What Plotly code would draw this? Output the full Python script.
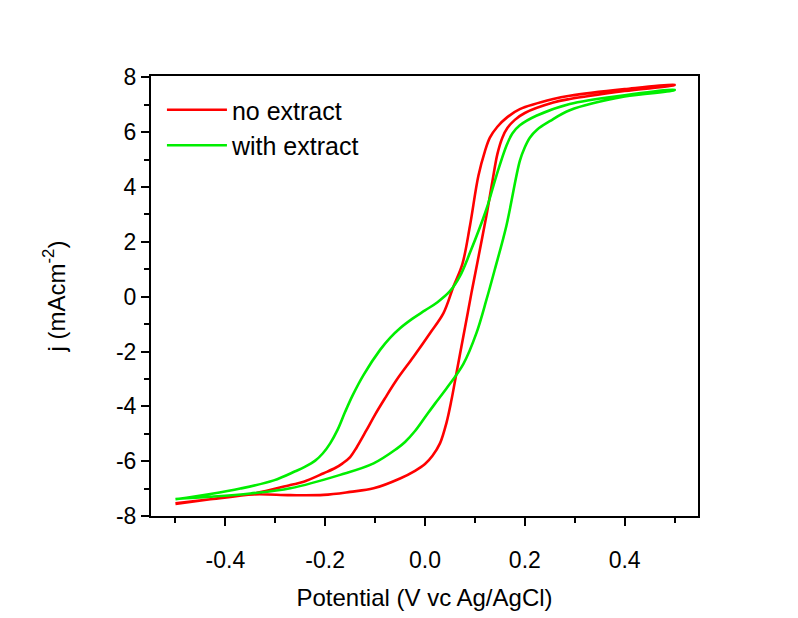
import plotly.graph_objects as go

# --- data ---
red_fwd_v = [-0.5, -0.43, -0.343, -0.27, -0.203, -0.15, -0.103, -0.05, -0.02, 0.0, 0.015, 0.03,
             0.043, 0.053, 0.063, 0.073, 0.083, 0.093, 0.105, 0.123, 0.135, 0.145, 0.155, 0.165,
             0.18, 0.2, 0.257, 0.29, 0.4, 0.5]
red_fwd_j = [-7.54, -7.39, -7.21, -7.24, -7.23, -7.12, -6.99, -6.63, -6.35, -6.1, -5.8, -5.35,
             -4.6, -3.77, -2.79, -1.82, -0.85, 0.13, 1.25, 2.95, 4.2, 5.2, 5.8, 6.15,
             6.45, 6.7, 7.08, 7.21, 7.5, 7.72]
red_rev_v = [0.5, 0.4, 0.29, 0.257, 0.19, 0.165, 0.145, 0.13, 0.12, 0.107, 0.09, 0.075, 0.057,
             0.037, 0.01, -0.023, -0.057, -0.08, -0.1, -0.117, -0.137, -0.15, -0.165, -0.18,
             -0.203, -0.243, -0.27, -0.35, -0.43, -0.5]
red_rev_j = [7.73, 7.57, 7.33, 7.21, 6.84, 6.55, 6.2, 5.8, 5.3, 4.41, 2.58, 1.2, 0.37,
             -0.6, -1.33, -2.19, -3.04, -3.7, -4.3, -4.86, -5.5, -5.85, -6.08, -6.25,
             -6.44, -6.75, -6.87, -7.21, -7.39, -7.56]

green_fwd_v = [-0.5, -0.43, -0.35, -0.27, -0.17, -0.103, -0.057, -0.04, -0.02, 0.0, 0.02, 0.043,
               0.077, 0.103, 0.123, 0.14, 0.163, 0.19, 0.2, 0.21, 0.225, 0.25, 0.29, 0.4, 0.5]
green_fwd_j = [-7.38, -7.3, -7.18, -6.99, -6.5, -6.08, -5.55, -5.3, -4.9, -4.4, -3.9, -3.35,
               -2.45, -1.33, -0.12, 1.0, 2.58, 4.95, 5.45, 5.8, 6.1, 6.4, 6.8, 7.3, 7.53]
green_rev_v = [0.5, 0.4, 0.29, 0.223, 0.19, 0.175, 0.163, 0.143, 0.123, 0.09, 0.07, 0.05, 0.025,
               0.0, -0.025, -0.05, -0.07, -0.09, -0.123, -0.145, -0.16, -0.175, -0.19, -0.205,
               -0.22, -0.24, -0.26, -0.303, -0.37, -0.43, -0.5]
green_rev_j = [7.55, 7.35, 7.03, 6.6, 6.25, 5.95, 5.5, 4.41, 3.19, 1.6, 0.75, 0.2, -0.2,
               -0.5, -0.8, -1.15, -1.5, -1.94, -2.85, -3.6, -4.2, -4.85, -5.35, -5.72,
               -5.98, -6.2, -6.37, -6.7, -7.0, -7.2, -7.39]

series_names = ["no extract", "with extract"]
series_colors = ["rgb(255,0,0)", "rgb(0,238,0)"]

x_ticks = [-0.4, -0.2, 0.0, 0.2, 0.4]
x_ticklabels = ["-0.4", "-0.2", "0.0", "0.2", "0.4"]
y_ticks = [-8, -6, -4, -2, 0, 2, 4, 6, 8]
y_ticklabels = ["-8", "-6", "-4", "-2", "0", "2", "4", "6", "8"]

FONT = "Arial, Liberation Sans, sans-serif"

fig = go.Figure()
for name, color, vf, jf, vr, jr in [
    (series_names[0], series_colors[0], red_fwd_v, red_fwd_j, red_rev_v, red_rev_j),
    (series_names[1], series_colors[1], green_fwd_v, green_fwd_j, green_rev_v, green_rev_j),
]:
    fig.add_trace(go.Scatter(
        x=vf + vr, y=jf + jr, mode="lines", name=name,
        line=dict(color=color, width=2.6, shape="spline", smoothing=1.0),
    ))

axis_common = dict(
    showline=True, linecolor="black", linewidth=2, mirror=True,
    ticks="outside", ticklen=8, tickwidth=2, tickcolor="black",
    showgrid=False, zeroline=False,
    tickfont=dict(family=FONT, size=23, color="black"),
)

fig.update_xaxes(
    range=[-0.549, 0.547], tickvals=x_ticks, ticktext=x_ticklabels,
    minor=dict(dtick=0.1, tick0=-0.5, ticks="outside", ticklen=5, tickwidth=2, tickcolor="black"),
    ticklabelstandoff=14,
    title=dict(text="Potential (V vc Ag/AgCl)", font=dict(family=FONT, size=24, color="black"),
               standoff=18),
    **axis_common,
)
fig.update_yaxes(
    range=[-8, 8.05], tickvals=y_ticks, ticktext=y_ticklabels,
    minor=dict(dtick=1, tick0=-8, ticks="outside", ticklen=5, tickwidth=2, tickcolor="black"),
    title=dict(text="j (mAcm<sup>-2</sup>)", font=dict(family=FONT, size=24, color="black"),
               standoff=44),
    **axis_common,
)

fig.update_layout(
    width=798, height=618,
    margin=dict(l=143, r=108, t=68, b=110),
    paper_bgcolor="white", plot_bgcolor="white",
    showlegend=True,
    legend=dict(x=0.02, y=0.975, xanchor="left", yanchor="top",
                bgcolor="rgba(0,0,0,0)", borderwidth=0,
                font=dict(family=FONT, size=25, color="black"),
                itemwidth=60, tracegroupgap=0),
)

fig.write_html("out.html")
